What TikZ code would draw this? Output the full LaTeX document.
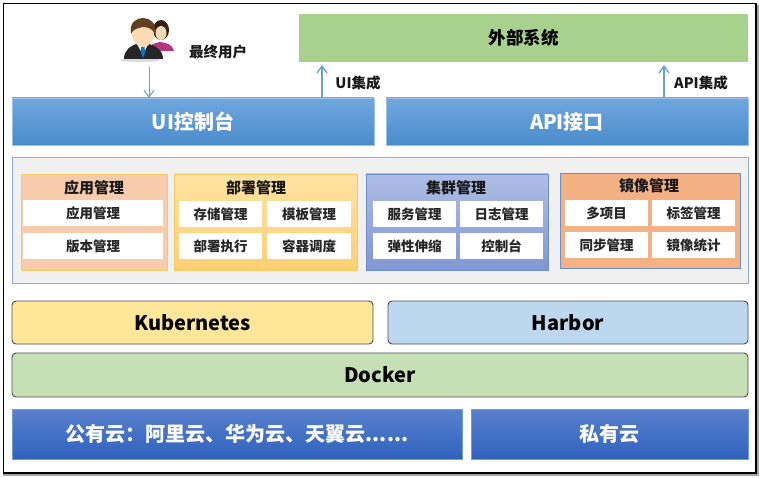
\documentclass[tikz,border=0pt]{standalone}
\usepackage{fontspec}
\setmainfont{Noto Sans CJK SC}
\usetikzlibrary{arrows.meta}
\definecolor{linkblue}{HTML}{6A9FD6}
\definecolor{uitop}{HTML}{70A6DE}
\definecolor{uibot}{HTML}{4A8CCB}
\definecolor{cloudtop}{HTML}{5A80CE}
\definecolor{cloudbot}{HTML}{2F62BC}
\definecolor{extgreen}{HTML}{A9D18E}
\definecolor{panelgray}{HTML}{F0F0F0}
\definecolor{panelline}{HTML}{8FAADC}
\definecolor{appfill}{HTML}{F8CBAD}
\definecolor{goldline}{HTML}{F4C95D}
\definecolor{deptop}{HTML}{FFE3A3}
\definecolor{depbot}{HTML}{FDCF72}
\definecolor{clutop}{HTML}{AEBDE4}
\definecolor{clubot}{HTML}{8097D2}
\definecolor{cluline}{HTML}{6C8CCB}
\definecolor{imgfill}{HTML}{F4B183}
\definecolor{kubefill}{HTML}{FFE699}
\definecolor{harbfill}{HTML}{BDD7EE}
\definecolor{dockfill}{HTML}{C5E0B4}
\tikzset{every node/.style={inner sep=0pt,outer sep=0pt}}
\tikzset{blockbig/.style={font=\fontsize{20}{24}\selectfont\bfseries,text=white}}
\tikzset{uibar/.style={blockbig,top color=uitop,bottom color=uibot,draw=uitop!70}}
\tikzset{cloudbar/.style={blockbig,top color=cloudtop,bottom color=cloudbot,draw=linkblue}}
\tikzset{layerbar/.style={rounded corners=4pt,draw=black!70,line width=0.9pt,text=black,font=\fontsize{20}{24}\selectfont\bfseries}}
\tikzset{groupbox/.style={line width=0.9pt}}
\tikzset{grouptitle/.style={font=\fontsize{15}{18}\selectfont\bfseries,text=black!90}}
\tikzset{itembox/.style={fill=white,font=\fontsize{13.5}{16}\selectfont\bfseries,text=black!85}}
\tikzset{upline/.style={draw=linkblue,line width=1.3pt,-{Straight Barb[length=7pt,width=10pt]}}}
\tikzset{sidelabel/.style={font=\fontsize{14.5}{17}\selectfont\bfseries,text=black!90}}
\begin{document}
\begin{tikzpicture}[x=1pt,y=-1pt]
          \useasboundingbox (0,0) rectangle (759,478);
          \fill[white] (0,0) rectangle (759,478);
          \draw[black!35,line width=2pt] (3,475) -- (758,475) -- (758,5);
          \draw[black,line width=1.2pt] (3.5,3.5) rectangle (756,473);

          \node[fill=extgreen,minimum width=449,minimum height=48,font=\fontsize{17.5}{20}\selectfont\bfseries] (ext) at (523.5,38) {外部系统};
          \node[uibar,minimum width=362,minimum height=47] (ui) at (193,121.5) {UI控制台};
          \node[uibar,minimum width=362,minimum height=47] (api) at (567,121.5) {API接口};

          \fill[black!15] (140,60) ellipse (20 and 2);
          \fill[magenta!70!black] (147,51) .. controls (150,44) and (155,43) .. (160,42) .. controls (167,43) and (172,44) .. (174,51) -- cycle;
          \fill[black!75!brown] (161,30) ellipse (8 and 10);
          \fill[orange!30!white] (161,33) ellipse (5.5 and 7);
          \fill[black!85] (124,59) .. controls (124,50) and (130,46) .. (139,43) -- (146,43) .. controls (156,46) and (163,50) .. (163,59) -- cycle;
          \fill[white] (137,44) -- (148,44) -- (143,55) -- cycle;
          \fill[blue!40!cyan!80!black] (141,46) -- (144.5,46) -- (145,53) -- (143,58) -- (141,53) -- cycle;
          \fill[orange!30!white] (143,34) ellipse (11 and 13);
          \fill[black!50!brown] (131,34) .. controls (129,22) and (137,18) .. (143,18) .. controls (150,18) and (157,23) .. (155,34) .. controls (153,29) and (148,27) .. (143,27) .. controls (138,28) and (133,29) .. (131,34) -- cycle;

          \node[sidelabel] (usrtxt) at (218,52) {最终用户};
          \coordinate (usr) at (149,67);
          \coordinate (uiup) at (322,97);
          \coordinate (apiup) at (664,97);
          \draw[upline,line width=1pt] (usr) -- (usr |- ui.north);
          \draw[upline,shorten >=3pt] (uiup) -- (uiup |- ext.south);
          \draw[upline,shorten >=3pt] (apiup) -- (apiup |- ext.south);
          \node[sidelabel] (uitxt) at (358,83) {UI集成};
          \node[sidelabel] (apitxt) at (701,83) {API集成};

          \node[fill=panelgray,draw=panelline,line width=0.9pt,minimum width=736,minimum height=126] (panel) at (380,220) {};

          \node[groupbox,fill=appfill,draw=goldline,minimum width=146,minimum height=96] (appgrp) at (94,222) {};
          \node[grouptitle] (apptitle) at (94,188) {应用管理};
          \node[itembox,minimum width=140,minimum height=26] (app) at (93,213) {应用管理};
          \node[itembox,minimum width=140,minimum height=26] (ver) at (93,246) {版本管理};

          \node[groupbox,top color=deptop,bottom color=depbot,draw=goldline,minimum width=183,minimum height=96] (depgrp) at (265.5,222) {};
          \node[grouptitle] (deptitle) at (256,188) {部署管理};
          \node[itembox,minimum width=83,minimum height=26] (store) at (220.5,214) {存储管理};
          \node[itembox,minimum width=84,minimum height=26] (tmpl) at (309,214) {模板管理};
          \node[itembox,minimum width=83,minimum height=26] (run) at (220.5,246) {部署执行};
          \node[itembox,minimum width=84,minimum height=26] (sched) at (309,246) {容器调度};

          \node[groupbox,top color=clutop,bottom color=clubot,draw=cluline,minimum width=182,minimum height=96] (clugrp) at (457,222) {};
          \node[grouptitle] (clutitle) at (456,188) {集群管理};
          \node[itembox,minimum width=83,minimum height=26] (svc) at (414.5,214) {服务管理};
          \node[itembox,minimum width=83,minimum height=26] (log) at (501.5,214) {日志管理};
          \node[itembox,minimum width=83,minimum height=26] (scale) at (414.5,246) {弹性伸缩};
          \node[itembox,minimum width=83,minimum height=26] (cons) at (501.5,246) {控制台};

          \node[groupbox,fill=imgfill,draw=cluline,minimum width=180,minimum height=95] (imggrp) at (650,220.5) {};
          \node[grouptitle] (imgtitle) at (649,186) {镜像管理};
          \node[itembox,minimum width=83,minimum height=26] (proj) at (606.5,213) {多项目};
          \node[itembox,minimum width=83,minimum height=26] (tag) at (693.5,213) {标签管理};
          \node[itembox,minimum width=83,minimum height=26] (sync) at (606.5,245) {同步管理};
          \node[itembox,minimum width=83,minimum height=26] (stat) at (693.5,245) {镜像统计};

          \node[layerbar,fill=kubefill,minimum width=361,minimum height=43] (k8s) at (192.5,322.5) {Kubernetes};
          \node[layerbar,fill=harbfill,minimum width=360,minimum height=43] (harbor) at (568,322.5) {Harbor};
          \node[layerbar,fill=dockfill,minimum width=736,minimum height=44] (docker) at (380,375) {Docker};
          \node[cloudbar,minimum width=450,minimum height=50,text width=450,align=center] (pub) at (237,434) {公有云：阿里云、华为云、天翼云......\hspace{14pt}};
          \node[cloudbar,minimum width=277,minimum height=50] (priv) at (609.5,434) {私有云};
        \end{tikzpicture}
\end{document}
